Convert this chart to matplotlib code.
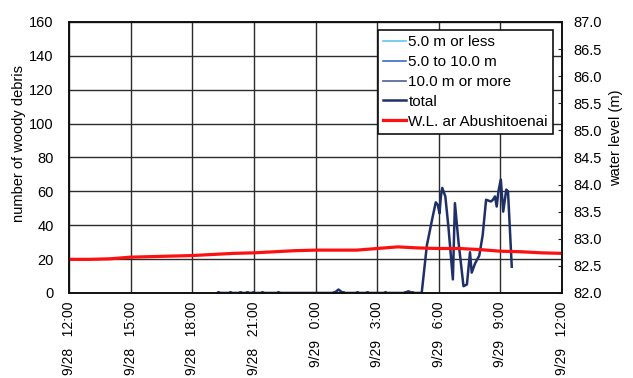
import datetime as dt

import matplotlib.dates as mdates
import matplotlib.pyplot as plt
from matplotlib.ticker import FixedLocator, FormatStrFormatter

plt.rcParams["font.family"] = ["Liberation Sans", "DejaVu Sans"]

# debris counts, observation times as "day hh:mm" (Sept.)
debris_times = [
    "28 19:16", "28 19:50", "28 20:20", "28 20:39", "28 20:57", "28 21:23",
    "28 22:11", "29 00:55", "29 01:07", "29 01:20", "29 02:00", "29 02:30",
    "29 03:23", "29 04:20", "29 04:31", "29 04:42",
    "29 05:10", "29 05:25", "29 05:40", "29 05:51", "29 05:57", "29 06:02",
    "29 06:06", "29 06:10", "29 06:19", "29 06:28", "29 06:41", "29 06:47",
    "29 06:57", "29 07:12", "29 07:22", "29 07:31", "29 07:36", "29 07:46",
    "29 07:58", "29 08:08", "29 08:18", "29 08:32", "29 08:38", "29 08:44",
    "29 08:49", "29 08:54", "29 09:01", "29 09:08", "29 09:17", "29 09:22",
    "29 09:33",
]
total = [
    0, 0, 0, 0, 0, 0,
    0, 0, 2, 0, 0, 0,
    0, 0, 1, 0,
    0, 28, 43, 53.5, 52, 47,
    57, 62, 57, 39, 8, 53,
    31, 4, 5, 24, 12, 17.5,
    22, 34, 55, 54, 55, 57,
    51, 60, 67, 48, 61, 60,
    15.5,
]
under_5m = []
from_5_to_10m = []
over_10m = []

# hourly water level at Abushitoenai, 9/28 12:00 - 9/29 12:00
wl_times = ["28 %02d:00" % h for h in range(12, 24)] + ["29 %02d:00" % h for h in range(0, 13)]
water_level = [
    82.62, 82.62, 82.63, 82.66, 82.67, 82.68, 82.69, 82.71, 82.73, 82.74,
    82.76, 82.78, 82.79, 82.79, 82.79, 82.82, 82.85, 82.83, 82.82, 82.82,
    82.80, 82.77, 82.76, 82.74, 82.73,
]


def to_dt(s):
    day, hm = s.split()
    h, m = hm.split(":")
    return dt.datetime(2010, 9, int(day), int(h), int(m))


t_debris = [to_dt(s) for s in debris_times]
t_wl = [to_dt(s) for s in wl_times]
t0, t1 = to_dt("28 12:00"), to_dt("29 12:00")

fig = plt.figure(figsize=(6.33, 3.78), dpi=100)
ax = fig.add_axes([0.109, 0.225, 0.779, 0.717])
ax2 = ax.twinx()

h1, = ax.plot(under_5m, under_5m, color="#5ec8f0", lw=1.2, label="5.0 m or less")
h2, = ax.plot(from_5_to_10m, from_5_to_10m, color="#3a6cc9", lw=1.2, label="5.0 to 10.0 m")
h3, = ax.plot(over_10m, over_10m, color="#4a5f9a", lw=1.2, label="10.0 m or more")
h4, = ax.plot(t_debris, total, color="#1f3068", lw=1.8, label="total")
# small dots on the quiet part before the surge
quiet = [i for i in range(16) if total[i] == 0]
ax.plot([t_debris[i] for i in quiet], [total[i] for i in quiet], "o",
        color="#1f3068", ms=2.5)
h5, = ax2.plot(t_wl, water_level, color="#ff1010", lw=2.3, label="W.L. ar Abushitoenai")

ax.set_xlim(t0, t1)
ax.set_ylim(0, 160)
ax2.set_ylim(82.0, 87.0)

ax.set_yticks(range(0, 161, 20))
ax2.yaxis.set_major_locator(FixedLocator([82 + 0.5 * i for i in range(11)]))
ax2.yaxis.set_major_formatter(FormatStrFormatter("%.1f"))

ax.xaxis.set_major_locator(mdates.HourLocator(byhour=[0, 3, 6, 9, 12, 15, 18, 21]))
ax.xaxis.set_major_formatter(mdates.DateFormatter("%-m/%d   %-H:%M"))
ax.grid(True, color="#2b2b2b", lw=1)
ax.set_axisbelow(True)

for lab in ax.get_xticklabels():
    lab.set_rotation(90)
ax.tick_params(axis="x", length=0, pad=6, labelsize=10)
ax.tick_params(axis="y", length=0, pad=11, labelsize=10.5)
ax2.tick_params(axis="y", direction="in", length=3, pad=8, labelsize=10.5, color="#222222")

for a in (ax, ax2):
    for sp in a.spines.values():
        sp.set_color("#111111")
        sp.set_linewidth(1.2)

ax.set_ylabel("number of woody debris", fontsize=10.5)
ax2.set_ylabel("water level (m)", fontsize=10.5)
ax.yaxis.set_label_coords(-0.087, 0.553)
ax2.yaxis.set_label_coords(1.095, 0.572)

leg = ax2.legend(handles=[h1, h2, h3, h4, h5], loc="upper right",
                 bbox_to_anchor=(0.982, 0.970), borderaxespad=0, fontsize=11,
                 handlelength=1.5, handletextpad=0.15, labelspacing=0.38,
                 borderpad=0.35, fancybox=False, framealpha=1)
leg.get_frame().set_edgecolor("#111111")
leg.get_frame().set_linewidth(1.2)

fig.savefig("out.png", dpi=100)
